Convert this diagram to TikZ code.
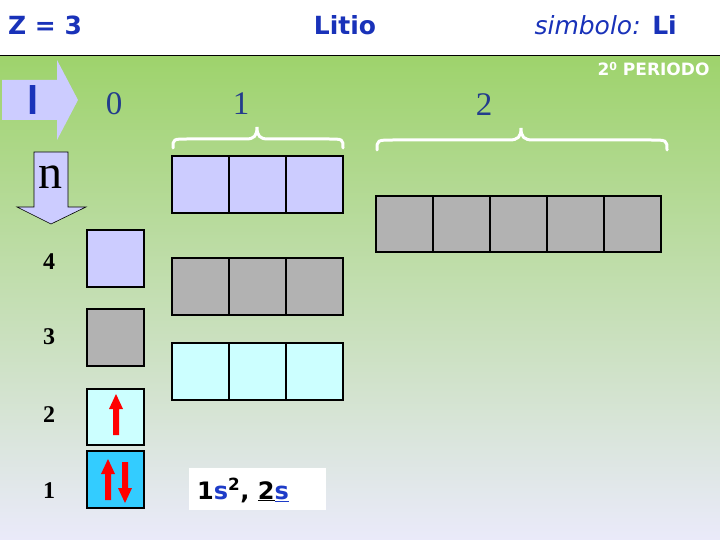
\documentclass[tikz,border=0pt]{standalone}
\usepackage{fontspec}
\setmainfont{Liberation Serif}
\newfontfamily\comic{DejaVu Sans}
\newfontfamily\arialf{Liberation Sans}
\definecolor{titleblue}{RGB}{25,50,185}
\definecolor{numblue}{RGB}{35,60,140}
\definecolor{lav}{RGB}{204,204,255}
\definecolor{grayb}{RGB}{178,178,178}
\definecolor{cyanl}{RGB}{204,255,255}
\definecolor{blueb}{RGB}{51,204,255}
\definecolor{gtop}{RGB}{158,211,108}
\definecolor{gbot}{RGB}{234,234,250}
\definecolor{sblue}{RGB}{30,60,200}
\tikzset{
  orb/.style={draw=black,line width=1.2pt,minimum width=57pt,minimum height=57pt,inner sep=0pt,outer sep=0pt},
  title/.style={font=\comic\bfseries\fontsize{25}{28}\selectfont,text=titleblue},
  lnum/.style={font=\fontsize{33}{36}\selectfont,text=numblue},
  rnum/.style={font=\bfseries\fontsize{24}{26}\selectfont,text=black},
  brace/.style={draw=white,line width=3pt,line cap=round},
  upa/.pic={\fill[red] (-3,0) -- (-3,-26) -- (-7,-26) -- (0,-41) -- (7,-26) -- (3,-26) -- (3,0) -- cycle;}
}
\begin{document}
\begin{tikzpicture}[x=1pt,y=-1pt]
\useasboundingbox (0,0) rectangle (720,540);
\fill[white] (0,0) rectangle (720,56);
\shade[top color=gtop,bottom color=gbot] (0,56) rectangle (720,540);
\draw[black,line width=1pt] (0,56) -- (720,56);
% titles
\node[title] (z) at (45,25) {Z = 3};
\node[title] (name) at (345,25) {Litio};
\node[title,anchor=west] (sym) at (531,25) {{\mdseries\itshape simbolo:} Li};
\node[font=\comic\bfseries\fontsize{17}{19}\selectfont,text=white,anchor=east] (per) at (713,69) {2\raisebox{0.55ex}{\fontsize{11}{11}\selectfont 0} PERIODO};
% l arrow
\fill[lav] (2,80) -- (57,80) -- (57,60) -- (78,100) -- (57,140) -- (57,120) -- (2,120) -- cycle;
\node[font=\arialf\bfseries\fontsize{40}{40}\selectfont,text=titleblue] (l) at (33,100) {l};
\node[lnum] (n0) at (114,104) {0};
\node[lnum] (n1) at (241,104) {1};
\node[lnum] (n2) at (484,105) {2};
% braces
\draw[brace] (173,148) .. controls (173,139) .. (188,139) -- (246,139) .. controls (254,139) and (257,136) .. (257,127) .. controls (257,136) and (260,139) .. (268,139) -- (328,139) .. controls (343,139) .. (343,148);
\draw[brace] (377,150) .. controls (377,140) .. (394,140) -- (509,140) .. controls (518,140) and (521,137) .. (521,128) .. controls (521,137) and (524,140) .. (533,140) -- (650,140) .. controls (667,140) .. (667,150);
% n arrow
\draw[fill=lav,draw=black,line width=0.6pt] (34,152) -- (68,152) -- (68,207) -- (86,207) -- (51,224) -- (17,207) -- (34,207) -- cycle;
\node[font=\fontsize{48}{48}\selectfont,text=black] (n) at (50,177) {n};
% row labels
\node[rnum] (r4) at (49,262) {4};
\node[rnum] (r3) at (49,337) {3};
\node[rnum] (r2) at (49,415) {2};
\node[rnum] (r1) at (49,491) {1};
% single boxes
\node[orb,fill=lav] (s4) at (115.5,258.5) {};
\node[orb,fill=grayb] (s3) at (115.5,337.5) {};
\node[orb,fill=cyanl,minimum height=56pt] (s2) at (115.5,417) {};
\node[orb,fill=blueb] (s1) at (115.5,479.5) {};
% p rows
\foreach \i/\x in {1/200.5,2/257.5,3/314.5}{
  \node[orb,fill=lav] (pa\i) at (\x,184.5) {};
  \node[orb,fill=grayb] (pb\i) at (\x,286.5) {};
  \node[orb,fill=cyanl] (pc\i) at (\x,371.5) {};
}
% d row
\foreach \i/\x in {1/404.5,2/461.5,3/518.5,4/575.5,5/632.5}{
  \node[orb,fill=grayb,minimum height=56pt] (d\i) at (\x,224) {};
}
% electrons
\pic at (116,435) {upa};
\pic at (108,500) {upa};
\pic[rotate=180] at (125,462) {upa};
% configuration
\node[fill=white,minimum width=137pt,minimum height=42pt,inner sep=0pt] (cfgbox) at (257.5,489) {};
\node[anchor=west,font=\comic\bfseries\fontsize{24}{26}\selectfont,text=black,inner sep=0pt] (cfg) at (197,490) {1{\color{sblue}s}\textsuperscript{2}, \underline{2}{\color{sblue}\underline{s}}};
\end{tikzpicture}
\end{document}
